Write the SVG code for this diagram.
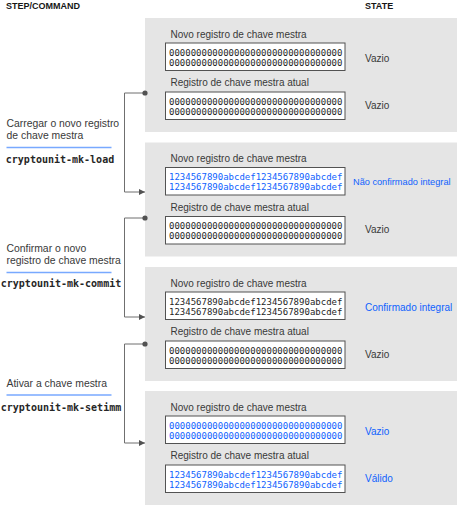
<svg xmlns="http://www.w3.org/2000/svg" width="457" height="505" viewBox="0 0 457 505">
<style>
.hdr{font-family:"Liberation Sans",Arial,sans-serif;font-size:9px;font-weight:bold;fill:#161616}
.step{font-family:"Liberation Sans",Arial,sans-serif;font-size:10.4px;fill:#393939}
.cmd{font-family:"DejaVu Sans Mono","Liberation Mono",monospace;font-size:10px;font-weight:bold;fill:#262626;text-anchor:middle}
.rule{stroke:#78a9ff;stroke-width:1.6}
.panel{fill:#e5e5e5}
.lbl{font-family:"Liberation Sans",Arial,sans-serif;font-size:10px;fill:#393939}
.box{fill:#ffffff;stroke:#525252;stroke-width:1}
.code{font-family:"DejaVu Sans Mono","Liberation Mono",monospace;font-size:9px;fill:#262626}
.codeb{font-family:"DejaVu Sans Mono","Liberation Mono",monospace;font-size:9px;fill:#0f62fe}
.st{font-family:"Liberation Sans",Arial,sans-serif;font-size:10px;fill:#393939}
.stb{font-family:"Liberation Sans",Arial,sans-serif;font-size:10px;fill:#0f62fe}
.conn{fill:none;stroke:#6f6f6f;stroke-width:1}
.dot{fill:#525252}
</style>
<defs>
<marker id="arr" viewBox="0 0 6 6" refX="6" refY="3" markerWidth="6" markerHeight="6" markerUnits="userSpaceOnUse" orient="auto">
<path d="M0,0 L6,3 L0,6 Z" fill="#525252"/>
</marker>
</defs>

<g id="headers">
<text class="hdr" x="6" y="9">STEP/COMMAND</text>
<text class="hdr" x="365" y="9">STATE</text>
</g>

<g id="step-load">
<text class="step" x="6.5" y="127">Carregar o novo registro</text>
<text class="step" x="6.5" y="139">de chave mestra</text>
<line class="rule" x1="6.5" y1="147.5" x2="111.5" y2="147.5"/>
<text class="cmd" x="60" y="163">cryptounit-mk-load</text>
</g>

<g id="step-commit">
<text class="step" x="6.5" y="252">Confirmar o novo</text>
<text class="step" x="6.5" y="264">registro de chave mestra</text>
<line class="rule" x1="6.5" y1="272.5" x2="111.5" y2="272.5"/>
<text class="cmd" x="61" y="287">cryptounit-mk-commit</text>
</g>

<g id="step-setimm">
<text class="step" x="6.5" y="386.5">Ativar a chave mestra</text>
<line class="rule" x1="6.5" y1="395" x2="111.5" y2="395"/>
<text class="cmd" x="61" y="410.5">cryptounit-mk-setimm</text>
</g>

<g id="state-1">
<rect class="panel" x="145" y="18" width="312" height="114"/>
<text class="lbl" x="170.5" y="37.5">Novo registro de chave mestra</text>
<rect class="box" x="165.5" y="43" width="179.5" height="27.5"/>
<text class="code" x="169" y="55.5">00000000000000000000000000000000</text>
<text class="code" x="169" y="65.5">00000000000000000000000000000000</text>
<text class="st" x="365" y="61.5">Vazio</text>
<text class="lbl" x="170.5" y="86">Registro de chave mestra atual</text>
<rect class="box" x="165.5" y="92" width="179.5" height="27.5"/>
<text class="code" x="169" y="104.5">00000000000000000000000000000000</text>
<text class="code" x="169" y="114.5">00000000000000000000000000000000</text>
<text class="st" x="365" y="108.5">Vazio</text>
</g>

<g id="state-2">
<rect class="panel" x="145" y="142.5" width="312" height="114"/>
<text class="lbl" x="170.5" y="162">Novo registro de chave mestra</text>
<rect class="box" x="165.5" y="167.5" width="179.5" height="27.5"/>
<text class="codeb" x="169" y="180">1234567890abcdef1234567890abcdef</text>
<text class="codeb" x="169" y="190">1234567890abcdef1234567890abcdef</text>
<text class="stb" x="353" y="185" style="font-size:9.2px">Não confirmado integral</text>
<text class="lbl" x="170.5" y="210.5">Registro de chave mestra atual</text>
<rect class="box" x="165.5" y="216.5" width="179.5" height="27.5"/>
<text class="code" x="169" y="229">00000000000000000000000000000000</text>
<text class="code" x="169" y="239">00000000000000000000000000000000</text>
<text class="st" x="365" y="233">Vazio</text>
</g>

<g id="state-3">
<rect class="panel" x="145" y="267" width="312" height="114"/>
<text class="lbl" x="170.5" y="286.5">Novo registro de chave mestra</text>
<rect class="box" x="165.5" y="292" width="179.5" height="27.5"/>
<text class="code" x="169" y="304.5">1234567890abcdef1234567890abcdef</text>
<text class="code" x="169" y="314.5">1234567890abcdef1234567890abcdef</text>
<text class="stb" x="365" y="310.5">Confirmado integral</text>
<text class="lbl" x="170.5" y="335">Registro de chave mestra atual</text>
<rect class="box" x="165.5" y="341" width="179.5" height="27.5"/>
<text class="code" x="169" y="353.5">00000000000000000000000000000000</text>
<text class="code" x="169" y="363.5">00000000000000000000000000000000</text>
<text class="st" x="365" y="357.5">Vazio</text>
</g>

<g id="state-4">
<rect class="panel" x="145" y="391" width="312" height="114"/>
<text class="lbl" x="170.5" y="410.5">Novo registro de chave mestra</text>
<rect class="box" x="165.5" y="416" width="179.5" height="27.5"/>
<text class="codeb" x="169" y="428.5">00000000000000000000000000000000</text>
<text class="codeb" x="169" y="438.5">00000000000000000000000000000000</text>
<text class="stb" x="365" y="434.5">Vazio</text>
<text class="lbl" x="170.5" y="459">Registro de chave mestra atual</text>
<rect class="box" x="165.5" y="465" width="179.5" height="27.5"/>
<text class="codeb" x="169" y="477.5">1234567890abcdef1234567890abcdef</text>
<text class="codeb" x="169" y="487.5">1234567890abcdef1234567890abcdef</text>
<text class="stb" x="365" y="481.5">Válido</text>
</g>

<g id="connectors">
<path class="conn" d="M145,93 H124.5 V192 H145" marker-end="url(#arr)"/>
<circle class="dot" cx="145" cy="93" r="2.6"/>
<path class="conn" d="M145,218 H124.5 V317 H145" marker-end="url(#arr)"/>
<circle class="dot" cx="145" cy="218" r="2.6"/>
<path class="conn" d="M145,344 H124.5 V443 H145" marker-end="url(#arr)"/>
<circle class="dot" cx="145" cy="344" r="2.6"/>
</g>
</svg>
